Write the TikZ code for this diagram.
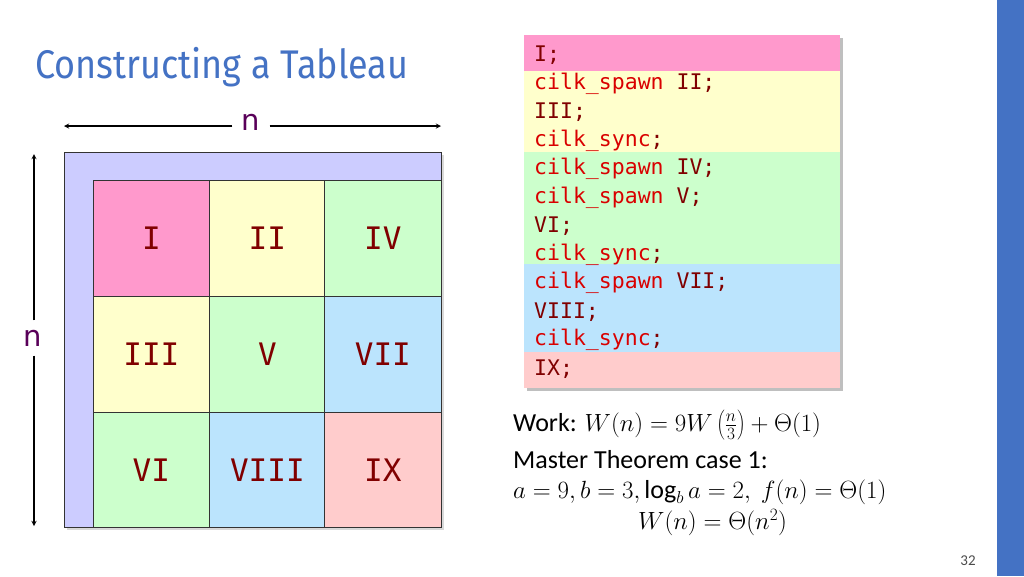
\documentclass[tikz,border=0pt]{standalone}
\usepackage{graphicx}
\usepackage{fontspec}
\setmainfont{Carlito}
\newfontfamily\monof{DejaVu Sans Mono}
\newfontfamily\titlef{Fira Sans}
\newfontfamily\labf{DejaVu Sans}
\begin{document}
\begin{tikzpicture}[x=1pt,y=-1pt,
  cell/.style={draw=black!80,line width=0.8pt,minimum width=116pt,minimum height=116pt,anchor=north west,inner sep=0pt,font=\monof\fontsize{31}{31}\selectfont,text=red!50!black},
  band/.style={anchor=north west,inner sep=0pt,minimum width=316pt},
  cl/.style={anchor=west,font=\monof\fontsize{21.5}{21.5}\selectfont,inner sep=0pt},
  dim/.style={font=\labf\fontsize{29}{29}\selectfont,text=violet!70!black}]
\useasboundingbox (0,0) rectangle (1024,576);
\fill[white] (0,0) rectangle (1024,576);
\definecolor{tblue}{RGB}{68,114,196}
\fill[tblue] (997,0) rectangle (1024,576);
\node[anchor=west,text=tblue,font=\titlef\fontsize{40}{40}\selectfont,inner sep=0pt] (title) at (35,67) {\scalebox{0.9}[1]{Constructing a Tableau}};
% grid
\definecolor{cpink}{RGB}{255,153,204}
\definecolor{cyel}{RGB}{255,255,204}
\definecolor{cgreen}{RGB}{204,255,204}
\definecolor{cblue}{RGB}{187,228,253}
\definecolor{cred}{RGB}{255,204,204}
\definecolor{clav}{RGB}{204,204,255}
\fill[black!15] (67,155) rectangle (444,530);
\node[draw=black!80,line width=0.8pt,fill=clav,anchor=north west,minimum width=377pt,minimum height=375pt,inner sep=0pt] (outer) at (64,152) {};
\node[cell,fill=cpink] (c1) at (93,180) {I};
\node[cell,fill=cyel] (c2) at (209,180) {II};
\node[cell,fill=cgreen,minimum width=117pt] (c4) at (324,180) {IV};
\node[cell,fill=cyel] (c3) at (93,296) {III};
\node[cell,fill=cgreen] (c5) at (209,296) {V};
\node[cell,fill=cblue,minimum width=117pt] (c7) at (324,296) {VII};
\node[cell,fill=cgreen,minimum height=115pt] (c6) at (93,412) {VI};
\node[cell,fill=cblue,minimum height=115pt] (c8) at (209,412) {VIII};
\node[cell,fill=cred,minimum width=117pt,minimum height=115pt] (c9) at (324,412) {IX};
% dims
\node[dim] (nh) at (251,122) {n};
\coordinate (hl) at (64,126); \coordinate (hr) at (441,126);
\draw[-stealth,line width=1.3pt] (nh.west) ++(-6,4) -- (hl);
\draw[-stealth,line width=1.3pt] (nh.east) ++(6,4) -- (hr);
\node[dim] (nv) at (33,338) {n};
\coordinate (vt) at (34,154); \coordinate (vb) at (34,526);
\draw[-stealth,line width=1.3pt] (nv.north) ++(1,-6) -- (vt);
\draw[-stealth,line width=1.3pt] (nv.south) ++(1,6) -- (vb);
% code
\fill[black!25] (527,38) rectangle (843,391);
\node[band,fill=cpink,minimum height=36pt] (b1) at (524,35) {};
\node[band,fill=cyel,minimum height=81pt] (b2) at (524,71) {};
\node[band,fill=cgreen,minimum height=112pt] (b3) at (524,152) {};
\node[band,fill=cblue,minimum height=88pt] (b4) at (524,264) {};
\node[band,fill=cred,minimum height=36pt] (b5) at (524,352) {};
\begin{scope}[every node/.style={cl,text=red!50!black}]
\node at (534,55) {I;};
\node at (534,84) {\textcolor{red!85!black}{cilk\_spawn} II;};
\node at (534,112) {III;};
\node at (534,141) {\textcolor{red!85!black}{cilk\_sync};};
\node at (534,169) {\textcolor{red!85!black}{cilk\_spawn} IV;};
\node at (534,198) {\textcolor{red!85!black}{cilk\_spawn} V;};
\node at (534,226) {VI;};
\node at (534,255) {\textcolor{red!85!black}{cilk\_sync};};
\node at (534,283) {\textcolor{red!85!black}{cilk\_spawn} VII;};
\node at (534,312) {VIII;};
\node at (534,340) {\textcolor{red!85!black}{cilk\_sync};};
\node at (534,369) {IX;};
\end{scope}
% math
\begin{scope}[every node/.style={anchor=west,font=\fontsize{26}{26}\selectfont,inner sep=0pt}]
\node (w) at (513,425) {Work: $W(n)=9W\left(\frac{n}{3}\right)+\Theta(1)$};
\node (m) at (513,460) {Master Theorem case 1:};
\node (a) at (513,492) {$a=9,b=3,\log_b a=2,\ f(n)=\Theta(1)$};
\node (r) at (638,523) {$W(n)=\Theta(n^2)$};
\end{scope}
\node[font=\fontsize{15}{15}\selectfont,text=black!70] (pg) at (968,561) {32};
\end{tikzpicture}
\end{document}
